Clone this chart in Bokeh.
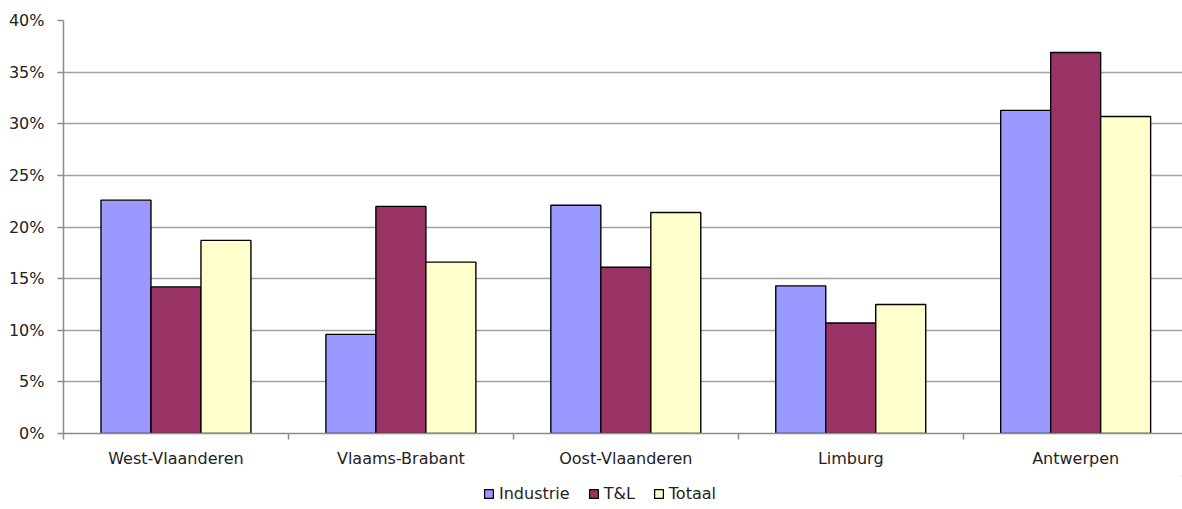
from bokeh.plotting import figure
from bokeh.layouts import column
from bokeh.models import (Range1d, FixedTicker, PrintfTickFormatter, Legend, LegendItem,
                          ColumnDataSource)
from bokeh.embed import file_html
from bokeh.resources import INLINE

categories = ["West-Vlaanderen", "Vlaams-Brabant", "Oost-Vlaanderen", "Limburg", "Antwerpen"]
industrie = [22.6, 9.6, 22.1, 14.3, 31.3]
tl = [14.2, 22.0, 16.1, 10.7, 36.9]
totaal = [18.7, 16.6, 21.4, 12.5, 30.7]
series_names = ["Industrie", "T&L", "Totaal"]
series_colors = ["#9999FF", "#993366", "#FFFFCC"]
y_ticks = [0, 5, 10, 15, 20, 25, 30, 35, 40]

FONT = "DejaVu Sans"
FS = "16px"

p = figure(width=1182, height=475, output_backend="svg", toolbar_location=None,
           x_range=Range1d(0, 4.975), y_range=Range1d(0, 40),
           min_border_left=63, min_border_right=0, min_border_top=20, min_border_bottom=42)
p.outline_line_color = None
p.background_fill_color = "white"
p.border_fill_color = "white"

centers = [i + 0.5 for i in range(len(categories))]
bw = 2 / 9
for k, (name, vals, col) in enumerate(zip(series_names, [industrie, tl, totaal], series_colors)):
    src = ColumnDataSource(dict(x=[c + (k - 1) * bw for c in centers], top=vals))
    p.vbar(x="x", top="top", width=bw, bottom=0, source=src,
           fill_color=col, line_color="#000000", line_width=1.4)

# y axis
p.yaxis.ticker = FixedTicker(ticks=y_ticks, minor_ticks=[])
p.yaxis.formatter = PrintfTickFormatter(format="%d%%")
p.yaxis.axis_line_color = "#8c8c8c"
p.yaxis.axis_line_width = 1.5
p.yaxis.major_tick_line_color = "#8c8c8c"
p.yaxis.major_tick_line_width = 1.5
p.yaxis.major_tick_out = 6
p.yaxis.major_tick_in = 0
p.yaxis.major_label_standoff = 13
p.yaxis.major_label_text_font = FONT
p.yaxis.major_label_text_font_size = FS
p.yaxis.major_label_text_color = "#222222"

# x axis
p.xaxis.ticker = FixedTicker(ticks=centers, minor_ticks=list(range(len(categories) + 1)))
p.xaxis.major_label_overrides = {c: lab for c, lab in zip(centers, categories)}
p.xaxis.axis_line_color = "#8c8c8c"
p.xaxis.axis_line_width = 1.5
p.xaxis.major_tick_line_color = None
p.xaxis.minor_tick_line_color = "#8c8c8c"
p.xaxis.minor_tick_line_width = 1.5
p.xaxis.minor_tick_out = 6
p.xaxis.minor_tick_in = 0
p.xaxis.major_tick_out = 6
p.xaxis.major_label_standoff = 9
p.xaxis.major_label_text_font = FONT
p.xaxis.major_label_text_font_size = FS
p.xaxis.major_label_text_color = "#222222"

p.xgrid.grid_line_color = None
p.ygrid.ticker = FixedTicker(ticks=y_ticks)
p.ygrid.grid_line_color = "#a0a0a0"
p.ygrid.grid_line_width = 1.5

# legend strip below the chart
lg = figure(width=1182, height=34, output_backend="svg", toolbar_location=None,
            x_axis_type=None, y_axis_type=None, x_range=Range1d(0, 1), y_range=Range1d(0, 1),
            min_border_left=0, min_border_right=0, min_border_top=0, min_border_bottom=0)
lg.outline_line_color = None
lg.xgrid.grid_line_color = None
lg.ygrid.grid_line_color = None
dummies = []
for name, col in zip(series_names, series_colors):
    # swatch renderers: one point placed outside the visible range
    dummies.append(lg.vbar(x=[5], top=[5], bottom=[4], width=0.1, fill_color=col,
                           line_color="#000000", line_width=1.3))
legend = Legend(items=[LegendItem(label=n, renderers=[r]) for n, r in zip(series_names, dummies)],
                orientation="horizontal", location=(420, 6))
legend.label_text_font = FONT
legend.label_text_font_size = FS
legend.label_text_color = "#222222"
legend.glyph_width = 11
legend.glyph_height = 11
legend.label_standoff = 5
legend.spacing = 18
legend.padding = 0
legend.margin = 0
legend.border_line_color = None
legend.background_fill_alpha = 0
lg.add_layout(legend, "center")

layout = column(p, lg, spacing=0)
open("out.html", "w").write(file_html(layout, INLINE))
